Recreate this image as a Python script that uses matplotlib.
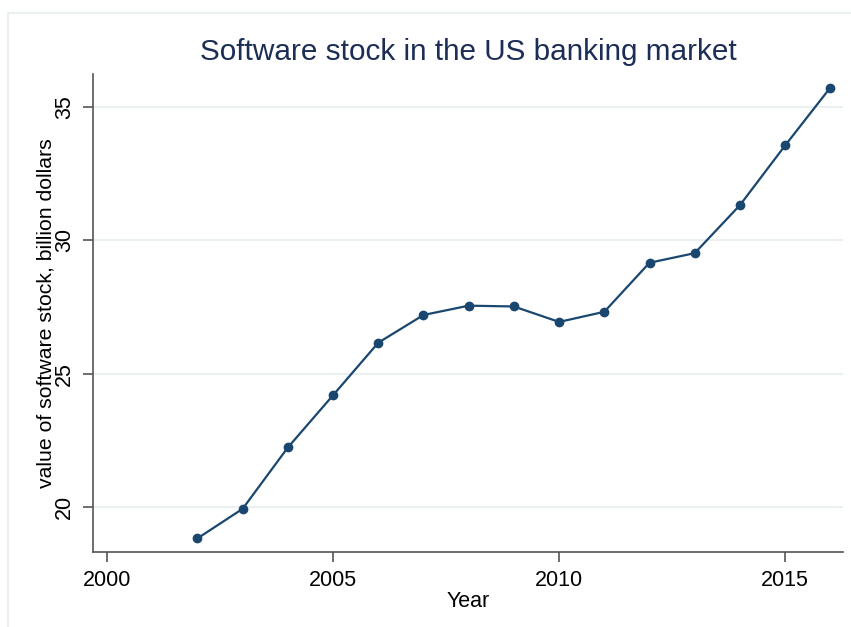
import matplotlib
matplotlib.use('Agg')
import matplotlib.pyplot as plt
from matplotlib.patches import Rectangle

# values
years = [2002, 2003, 2004, 2005, 2006, 2007, 2008, 2009, 2010, 2011, 2012, 2013, 2014, 2015, 2016]
stock = [18.82, 19.93, 22.23, 24.19, 26.16, 27.2, 27.55, 27.52, 26.94, 27.32, 29.16, 29.52, 31.32, 33.56, 35.73]
x_ticks = [2000, 2005, 2010, 2015]
y_ticks = [20, 25, 30, 35]

navy = '#1a476f'
grid_col = '#e9f0f2'
axis_col = '#555555'

plt.rcParams['font.family'] = ['Liberation Sans', 'DejaVu Sans']

fig = plt.figure(figsize=(8.51, 6.27), dpi=100)
fig.patch.set_facecolor('white')

# light outer frame like the Stata graph region
W, H = 851, 627
fig.patches.append(Rectangle((8 / W, -0.05), 1.1, 1 - 13 / H + 0.05, transform=fig.transFigure,
                             fill=False, edgecolor=grid_col, linewidth=1.5, zorder=0))

ax = fig.add_axes([93 / W, 1 - 552 / H, (843 - 93) / W, (552 - 74) / H])
ax.plot(years, stock, color=navy, linewidth=1.6, marker='o', markersize=6, zorder=3)

ax.set_xlim(1999.69, 2016.28)
ax.set_ylim(18.31, 36.24)
ax.set_xticks(x_ticks)
ax.set_yticks(y_ticks)
ax.set_yticklabels([str(v) for v in y_ticks], rotation=90, va='center')

ax.grid(axis='y', color=grid_col, linewidth=1.5)
ax.set_axisbelow(True)
for s in ['top', 'right']:
    ax.spines[s].set_visible(False)
for s in ['left', 'bottom']:
    ax.spines[s].set_color(axis_col)
    ax.spines[s].set_linewidth(1.2)
ax.tick_params(axis='both', colors=axis_col, labelcolor='black', length=7, width=1.2, labelsize=15.5, pad=6)

ax.set_xlabel('Year', fontsize=15.5, labelpad=0)
ax.set_ylabel('value of software stock, billion dollars', fontsize=15.3, labelpad=-1)
ax.set_title('Software stock in the US banking market', fontsize=21.4, color='#1c2e55', pad=10)

fig.savefig('out.png', dpi=100)
